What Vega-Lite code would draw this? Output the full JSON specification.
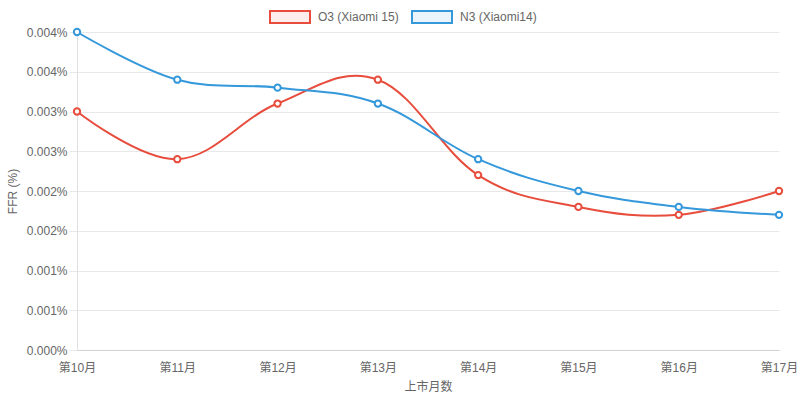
{
  "$schema": "https://vega.github.io/schema/vega-lite/v6.json",
  "autosize": {"type": "none"},
  "width": 702,
  "height": 318,
  "padding": {"left": 77, "top": 32, "right": 21, "bottom": 51},
  "background": "white",
  "config": {
    "view": {"stroke": null},
    "font": "'Liberation Sans', 'Noto Sans CJK SC', sans-serif",
    "axis": {"labelFont": "'Liberation Sans', 'Noto Sans CJK SC', sans-serif", "titleFont": "'Liberation Sans', 'Noto Sans CJK SC', sans-serif"},
    "legend": {"labelFont": "'Liberation Sans', 'Noto Sans CJK SC', sans-serif"}
  },
  "data": {
    "values": [
      {"month": "第10月", "series": "O3 (Xiaomi 15)", "value": 0.0030},
      {"month": "第11月", "series": "O3 (Xiaomi 15)", "value": 0.0024},
      {"month": "第12月", "series": "O3 (Xiaomi 15)", "value": 0.0031},
      {"month": "第13月", "series": "O3 (Xiaomi 15)", "value": 0.0034},
      {"month": "第14月", "series": "O3 (Xiaomi 15)", "value": 0.0022},
      {"month": "第15月", "series": "O3 (Xiaomi 15)", "value": 0.0018},
      {"month": "第16月", "series": "O3 (Xiaomi 15)", "value": 0.0017},
      {"month": "第17月", "series": "O3 (Xiaomi 15)", "value": 0.0020},
      {"month": "第10月", "series": "N3 (Xiaomi14)", "value": 0.0040},
      {"month": "第11月", "series": "N3 (Xiaomi14)", "value": 0.0034},
      {"month": "第12月", "series": "N3 (Xiaomi14)", "value": 0.0033},
      {"month": "第13月", "series": "N3 (Xiaomi14)", "value": 0.0031},
      {"month": "第14月", "series": "N3 (Xiaomi14)", "value": 0.0024},
      {"month": "第15月", "series": "N3 (Xiaomi14)", "value": 0.0020},
      {"month": "第16月", "series": "N3 (Xiaomi14)", "value": 0.0018},
      {"month": "第17月", "series": "N3 (Xiaomi14)", "value": 0.0017}
    ]
  },
  "encoding": {
    "x": {
      "field": "month", "type": "ordinal",
      "sort": ["第10月", "第11月", "第12月", "第13月", "第14月", "第15月", "第16月", "第17月"],
      "scale": {"type": "point", "padding": 0},
      "axis": {
        "title": "上市月数", "labelAngle": 0, "grid": false, "ticks": false,
        "labelPadding": 12, "labelFontSize": 12, "labelColor": "#666",
        "titleFontSize": 12, "titleColor": "#666", "titleFontWeight": "normal", "titlePadding": 8,
        "domainColor": "#d0d0d0", "domainWidth": 1
      }
    },
    "y": {
      "field": "value", "type": "quantitative",
      "scale": {"domain": [0, 0.004], "nice": false},
      "axis": {
        "title": "FFR (%)",
        "values": [0, 0.0005, 0.001, 0.0015, 0.002, 0.0025, 0.003, 0.0035, 0.004],
        "labelExpr": "format(datum.value, '.3f') + '%'",
        "grid": true, "gridColor": "#e8e8e8", "tickColor": "#e8e8e8", "tickSize": 8,
        "domainColor": "#e0e0e0", "labelPadding": 2,
        "labelFontSize": 12, "labelColor": "#666",
        "titleFontSize": 12, "titleColor": "#666", "titleFontWeight": "normal", "titlePadding": 7
      }
    },
    "color": {
      "field": "series", "type": "nominal",
      "sort": ["O3 (Xiaomi 15)", "N3 (Xiaomi14)"],
      "scale": {"domain": ["O3 (Xiaomi 15)", "N3 (Xiaomi14)"], "range": ["#e74c3c", "#3498db"]}
    }
  },
  "layer": [
    {
      "mark": {"type": "line", "interpolate": "cardinal", "tension": -0.1, "strokeWidth": 2},
      "encoding": {
        "color": {
          "field": "series", "type": "nominal",
          "sort": ["O3 (Xiaomi 15)", "N3 (Xiaomi14)"],
          "scale": {"domain": ["O3 (Xiaomi 15)", "N3 (Xiaomi14)"], "range": ["#e74c3c", "#3498db"]},
          "legend": {
            "title": null, "orient": "none", "direction": "horizontal",
            "legendX": 192, "legendY": -36, "padding": 0,
            "symbolType": "M-1,-0.3H1V0.3H-1Z", "symbolSize": 1600, "symbolStrokeWidth": 2,
            "labelFontSize": 12, "labelColor": "#666", "labelOffset": 7, "columnPadding": 9,
            "encode": {
              "symbols": {
                "update": {
                  "fill": {"signal": "datum.value === 'O3 (Xiaomi 15)' ? 'rgba(231,76,60,0.1)' : 'rgba(52,152,219,0.1)'"},
                  "fillOpacity": {"value": 1}
                }
              }
            }
          }
        }
      }
    },
    {
      "mark": {"type": "point", "filled": false, "fill": "white", "fillOpacity": 1, "size": 40, "strokeWidth": 2, "opacity": 1}
    }
  ]
}
